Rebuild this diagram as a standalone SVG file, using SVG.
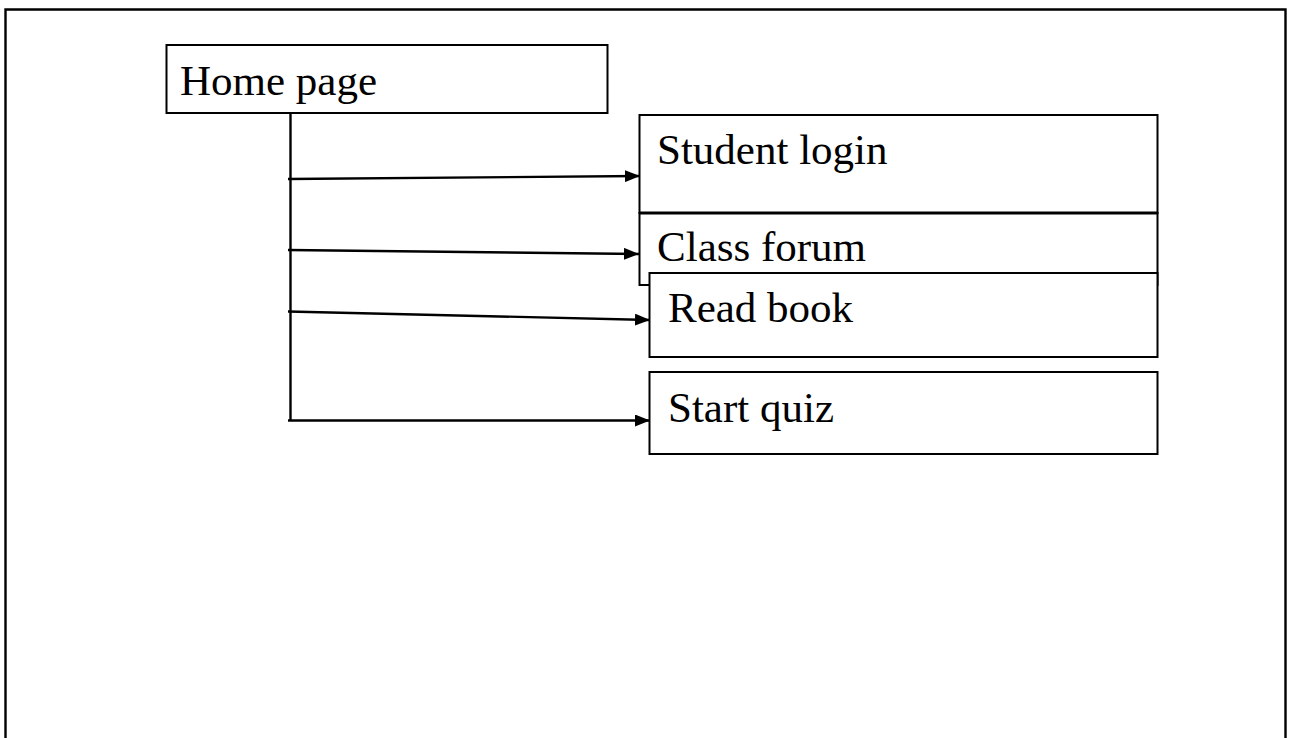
<svg xmlns="http://www.w3.org/2000/svg" width="1291" height="738" viewBox="0 0 1291 738">
<style>
.box{fill:#fff;stroke:#000;stroke-width:2}
.lbl{font-family:"Liberation Serif","Times New Roman",serif;font-size:43px;fill:#000}
.con{stroke:#000;stroke-width:2.4;fill:none}
</style>
<defs>
<marker id="ah" viewBox="0 0 15 12" refX="15" refY="6" markerWidth="15" markerHeight="12" markerUnits="userSpaceOnUse" orient="auto">
<path d="M0,0 L15,6 L0,12 Z" fill="#000"/>
</marker>
</defs>
<rect width="1291" height="738" fill="#fff"/>
<path d="M5.5,745 V9.5 H1285.5 V745" fill="none" stroke="#000" stroke-width="2.4"/>
<g id="home"><rect class="box" x="166.5" y="45" width="441" height="68"/><text class="lbl" x="180" y="95">Home page</text></g>
<g id="student"><rect class="box" x="639.5" y="115" width="518" height="98"/><text class="lbl" x="657" y="164">Student login</text></g>
<g id="forum"><rect class="box" x="639.5" y="213" width="518" height="72"/><line x1="639.5" y1="213" x2="1157.5" y2="213" stroke="#000" stroke-width="3"/><text class="lbl" x="657" y="261">Class forum</text></g>
<g id="read"><rect class="box" x="649.5" y="273" width="508" height="84"/><text class="lbl" x="668" y="322">Read book</text></g>
<g id="quiz"><rect class="box" x="649.5" y="372" width="508" height="82"/><text class="lbl" x="668" y="422">Start quiz</text></g>
<g id="connectors">
<line class="con" x1="290.5" y1="113" x2="290.5" y2="421"/>
<line class="con" x1="288" y1="179" x2="640" y2="176" marker-end="url(#ah)"/>
<line class="con" x1="288" y1="250" x2="639" y2="254" marker-end="url(#ah)"/>
<line class="con" x1="288" y1="311.5" x2="650" y2="320" marker-end="url(#ah)"/>
<line class="con" x1="288" y1="420.5" x2="650" y2="420.5" marker-end="url(#ah)"/>
</g>
</svg>
